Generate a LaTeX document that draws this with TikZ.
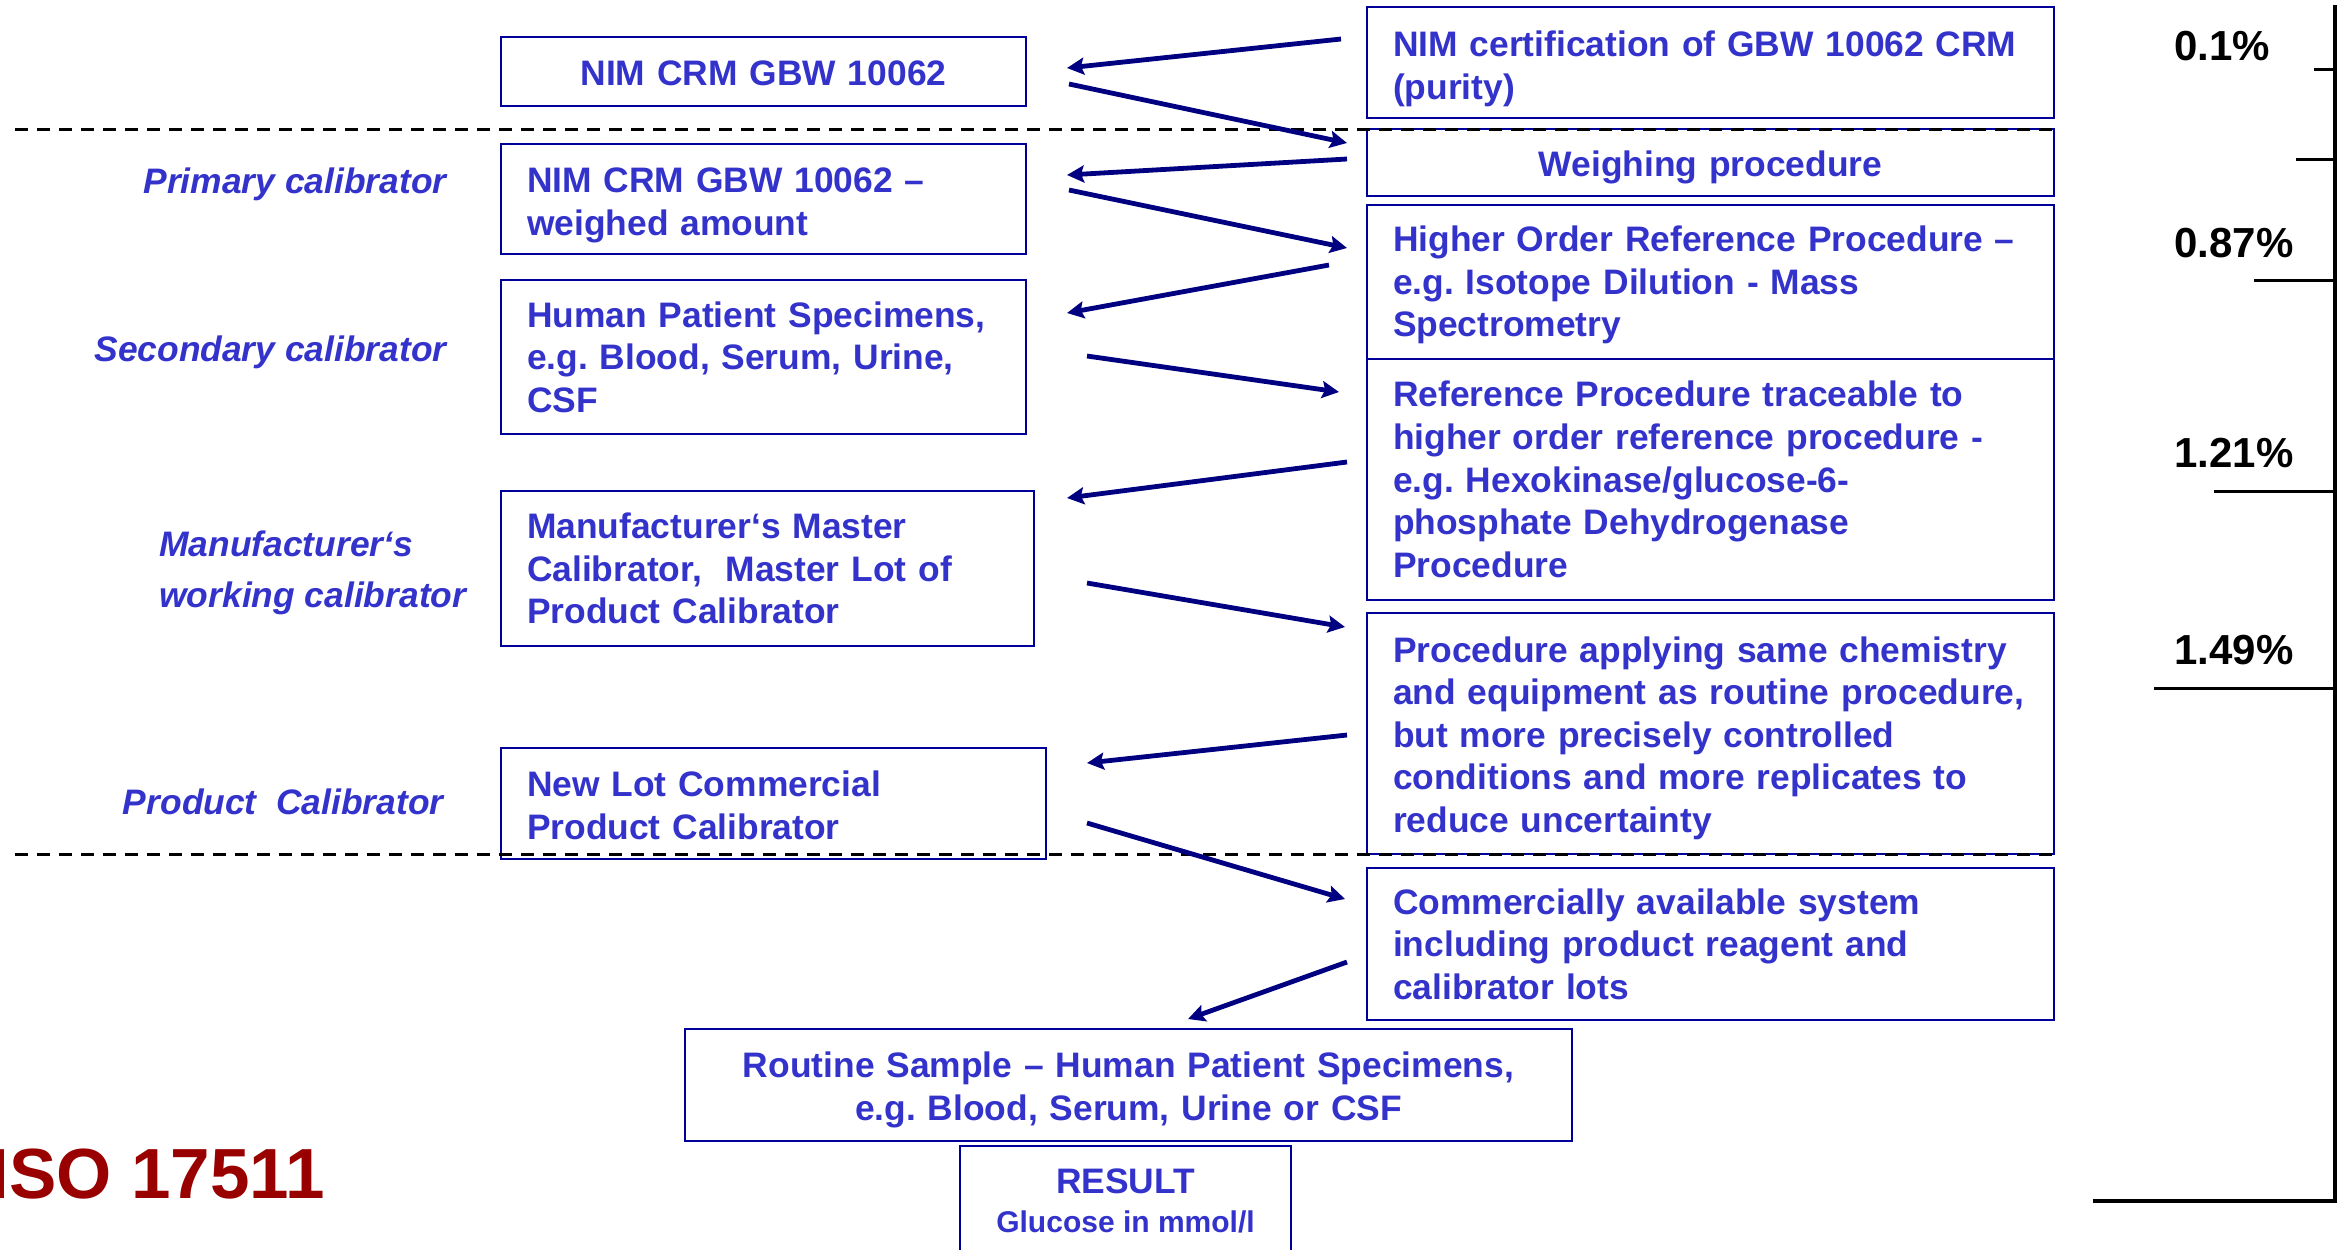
\documentclass[tikz,border=0pt]{standalone}
\usepackage{fontspec}
\setmainfont{Liberation Sans}
\usetikzlibrary{arrows.meta}
\definecolor{txtc}{HTML}{3333CC}
\definecolor{boxc}{HTML}{000099}
\definecolor{arrc}{HTML}{000080}
\definecolor{isoc}{HTML}{990000}
\frenchspacing
\begin{document}
\frenchspacing
\begin{tikzpicture}[x=0.5pt,y=-0.5pt,
  bx/.style={draw=boxc, line width=1pt, text=txtc, font=\bfseries\fontsize{17.7}{21.3}\selectfont\frenchspacing, inner xsep=13pt, inner ysep=0pt, align=left},
  tdown/.style={execute at begin node={\rule{0pt}{\dimexpr 13pt+#1\relax}}},
  lbox/.style={bx, text width=236.5pt},
  rbox/.style={bx, text width=317.5pt, minimum width=343.5pt},
  arr/.style={draw=arrc, line width=2.4pt, -{Stealth[length=8.5pt,width=8.5pt,inset=1.5pt]}},
  lab/.style={text=txtc, inner sep=0pt, font=\bfseries\itshape\fontsize{17.7}{25.5}\selectfont},
  pct/.style={inner sep=0pt, font=\bfseries\fontsize{21}{25}\selectfont, anchor=base west},
  dsh/.style={line width=1.5pt, dash pattern=on 6.5pt off 4.5pt},
  tick/.style={line width=1.5pt}]
\useasboundingbox (0,0) rectangle (2346,1249);
\clip (0,0) rectangle (2346,1249);
\fill[white] (0,0) rectangle (2346,1249);

% left boxes
\node[lbox, tdown=1.5pt, minimum height=34.5pt, align=center] (L1) at (763.5,71.5) {NIM CRM GBW 10062};
\node[lbox, tdown=6pt, minimum height=55pt] (L2) at (763.5,199) {NIM CRM GBW 10062 –\\weighed amount};
\node[lbox, minimum height=77pt] (L3) at (763.5,357) {Human Patient Specimens,\\e.g. Blood, Serum, Urine,\\CSF};
\node[bx, text width=240.5pt, minimum height=77.5pt] (L4) at (767.5,568.5) {Manufacturer‘s Master\\Calibrator,\ \ Master Lot of\\Product Calibrator};
\node[bx, tdown=1.5pt, text width=246.5pt, minimum height=55.5pt] (L5) at (773.5,803.5) {New Lot Commercial\\Product Calibrator};

% right boxes
\node[rbox, tdown=6pt, minimum height=55.5pt] (R1) at (1710.5,62.5) {NIM certification of GBW 10062 CRM\\(purity)};
\node[rbox, tdown=4.5pt, minimum height=33.5pt, align=center] (R2) at (1710.5,162.5) {Weighing procedure};
\node[rbox, tdown=3pt, minimum height=77pt] (R3) at (1710.5,282) {Higher Order Reference Procedure –\\e.g. Isotope Dilution - Mass\\Spectrometry};
\node[rbox, minimum height=120.5pt] (R4) at (1710.5,479.5) {Reference Procedure traceable to\\higher order reference procedure -\\e.g. Hexokinase/glucose-6-\\phosphate Dehydrogenase\\Procedure};
\node[rbox, tdown=4.5pt, minimum height=120.5pt] (R5) at (1710.5,733.5) {Procedure applying same chemistry\\and equipment as routine procedure,\\but more precisely controlled\\conditions and more replicates to\\reduce uncertainty};
\node[rbox, minimum height=76pt] (R6) at (1710.5,944) {Commercially available system\\including product reagent and\\calibrator lots};

% bottom boxes
\node[bx, tdown=5pt, align=center, text width=417.5pt, minimum height=56pt] (B1) at (1128.5,1085) {Routine Sample – Human Patient Specimens,\\e.g. Blood, Serum, Urine or CSF};
\node[bx, align=center, minimum width=165.5pt, minimum height=55pt] (B2) at (1125.5,1201) {RESULT\\[-1.8pt]{\fontsize{15}{19.5}\selectfont Glucose in mmol/l}};

% left labels
\node[lab, anchor=base east] (lp) at (447,193) {Primary calibrator};
\node[lab, anchor=base east] (ls) at (447,361) {Secondary calibrator};
\node[lab, anchor=west, align=left] (lm) at (159,573) {Manufacturer‘s\\working calibrator};
\node[lab, anchor=base east] (lpc) at (444,814) {Product\ \ Calibrator};

% ISO label
\node[inner sep=0pt, anchor=base west, text=isoc, font=\bfseries\fontsize{35.5}{40}\selectfont] (iso) at (-11,1198) {ISO 17511};

% percentages
\node[pct] (p1) at (2174,60) {0.1\%};
\node[pct] (p2) at (2174,257) {0.87\%};
\node[pct] (p3) at (2174,467) {1.21\%};
\node[pct] (p4) at (2174,664) {1.49\%};

% scale bar
\coordinate (st) at (2335,5);
\coordinate (sb) at (2335,1201);
\coordinate (sl) at (2093,1201);
\draw[line width=2pt] (st) -- (sb) -- (sl);
\draw[tick] (2314,69) -- (2335,69);
\draw[tick] (2296,159) -- (2335,159);
\draw[tick] (2254,280) -- (2335,280);
\draw[tick] (2214,491) -- (2335,491);
\draw[tick] (2154,688) -- (2335,688);

% dashed lines
\draw[dsh] (15,129) -- (2054,129);
\draw[dsh] (15,854) -- (2054,854);

% arrows
\draw[arr] ([shift={(-25,-23.5)}]R1.west) -- ([shift={(40,-3.5)}]L1.east);
\draw[arr] ([shift={(42,12.5)}]L1.east) -- ([shift={(-19,-19.5)}]R2.west);
\draw[arr] ([shift={(-19,-3.5)}]R2.west) -- ([shift={(40,-24)}]L2.east);
\draw[arr] ([shift={(42,-9)}]L2.east) -- ([shift={(-19,-34)}]R3.west);
\draw[arr] ([shift={(-37,-17)}]R3.west) -- ([shift={(40,-44)}]L3.east);
\draw[arr] ([shift={(60,-1)}]L3.east) -- ([shift={(-27,-87.5)}]R4.west);
\draw[arr] ([shift={(-19,-17.5)}]R4.west) -- ([shift={(32,-70.5)}]L4.east);
\draw[arr] ([shift={(52,14.5)}]L4.east) -- ([shift={(-21,-106.5)}]R5.west);
\draw[arr] ([shift={(-19,1.5)}]R5.west) -- ([shift={(40,-40.5)}]L5.east);
\draw[arr] ([shift={(40,19.5)}]L5.east) -- ([shift={(-21,-45)}]R6.west);
\draw[arr] ([shift={(-19,18)}]R6.west) -- ([shift={(59.5,-9)}]B1.north);
\end{tikzpicture}
\end{document}
